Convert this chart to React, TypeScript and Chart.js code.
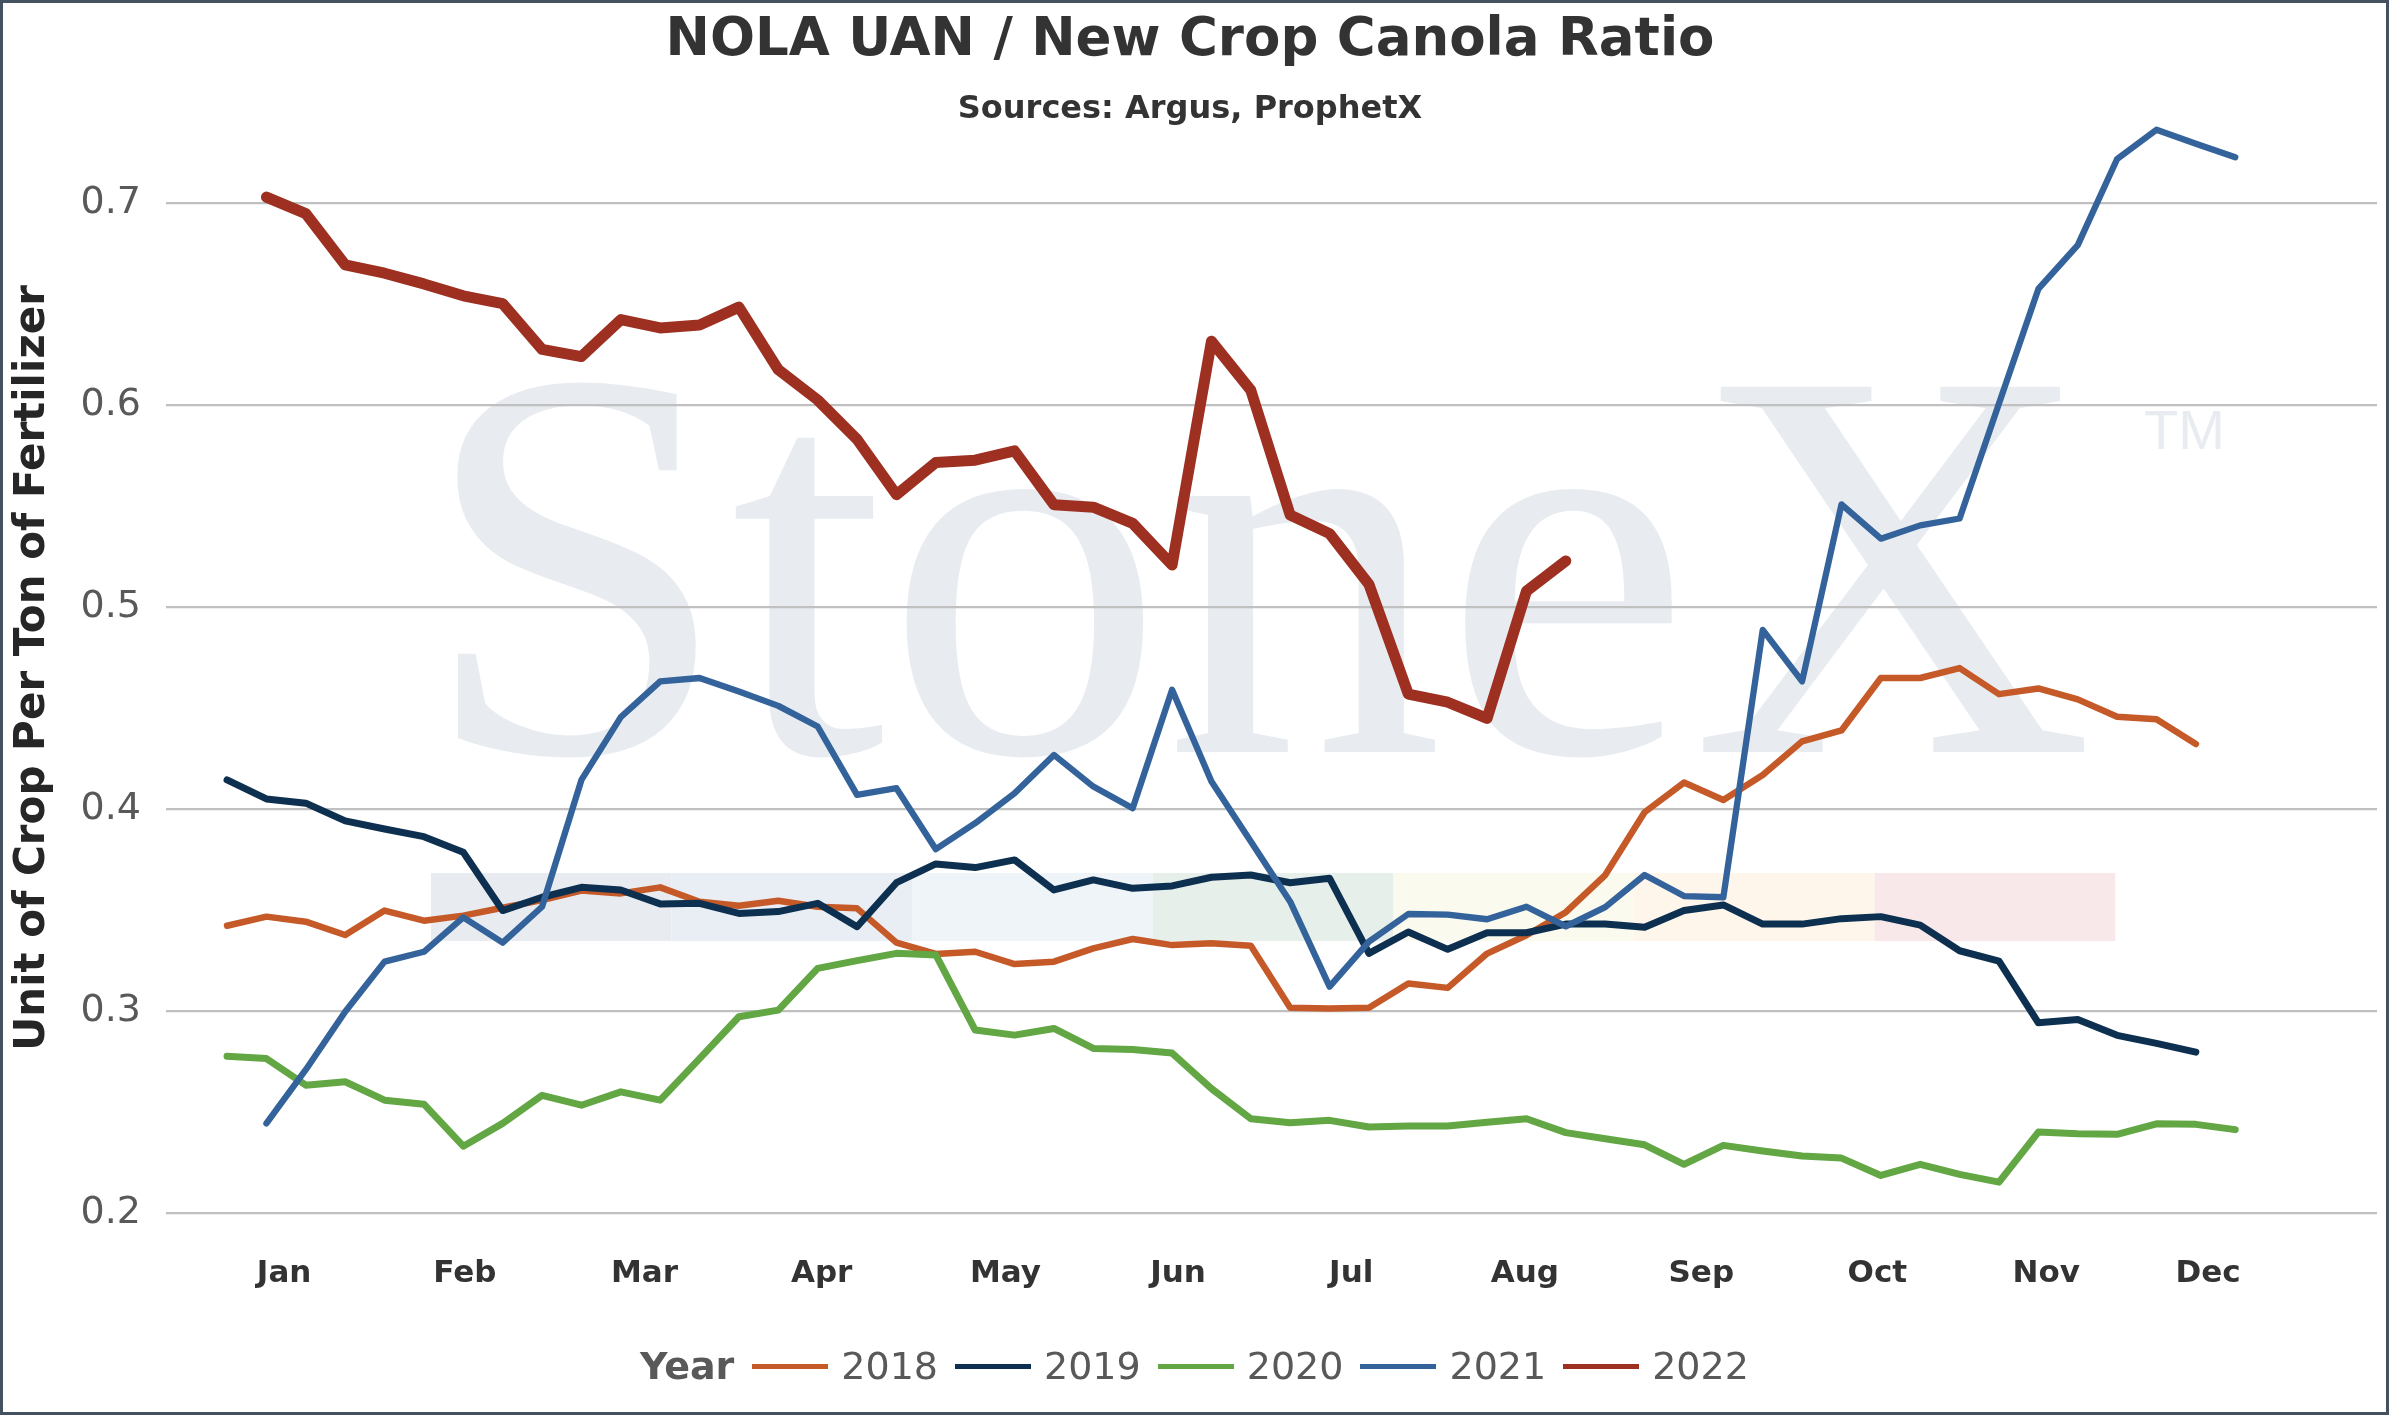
import React, { useEffect, useRef } from 'react';
import { Chart, registerables } from 'chart.js';

Chart.register(...registerables);

// ---------- data ----------
const MONTHS = ['Jan', 'Feb', 'Mar', 'Apr', 'May', 'Jun', 'Jul', 'Aug', 'Sep', 'Oct', 'Nov', 'Dec'];
// month label positions on the week axis (week index 0..51)
const MONTH_POS = [1.45, 6.04, 10.6, 15.1, 19.77, 24.15, 28.55, 32.96, 37.44, 41.91, 46.2, 50.31];
const Y_TICKS = [0.2, 0.3, 0.4, 0.5, 0.6, 0.7];

const YEARS = ['2018', '2019', '2020', '2021', '2022'];
const COLORS = ['#C55A28', '#0D3050', '#62A744', '#33639A', '#9E3022'];
const WIDTHS = [6.5, 7, 7, 6.3, 11];

const V2018 = [
  0.3423, 0.3468, 0.3443, 0.3377, 0.3498, 0.3448, 0.3473, 0.3512, 0.355, 0.3597,
  0.3583, 0.3613, 0.3542, 0.3522, 0.3547, 0.3517, 0.3509, 0.3339, 0.3283, 0.3294,
  0.3233, 0.3245, 0.3311, 0.3357, 0.3327, 0.3336, 0.3324, 0.3017, 0.3013, 0.3017,
  0.3137, 0.3115, 0.3285, 0.3376, 0.349, 0.3674, 0.3985, 0.4132, 0.4046, 0.417,
  0.4336, 0.439, 0.465, 0.465, 0.4699, 0.457, 0.4598, 0.4544, 0.4458, 0.4446,
  0.4323,
];
const V2019 = [
  0.4145, 0.4051, 0.403, 0.3942, 0.3902, 0.3864, 0.3787, 0.3498, 0.3564, 0.3613,
  0.36, 0.3531, 0.3534, 0.3484, 0.3493, 0.3534, 0.3418, 0.3636, 0.3729, 0.3711,
  0.3749, 0.36, 0.365, 0.3608, 0.362, 0.3663, 0.3674, 0.3636, 0.3658, 0.3286,
  0.3392, 0.3306, 0.3388, 0.3388, 0.3431, 0.3431, 0.3415, 0.3498, 0.3526, 0.3431,
  0.3431, 0.3458, 0.3468, 0.3426, 0.3299, 0.3248, 0.2942, 0.2959, 0.288, 0.284,
  0.2797,
];
const V2020 = [
  0.2777, 0.2765, 0.2633, 0.265, 0.2559, 0.2539, 0.2331, 0.2444, 0.2583, 0.2534,
  0.26, 0.2559, 0.2765, 0.2972, 0.3005, 0.3212, 0.325, 0.3286, 0.3278, 0.2906,
  0.2881, 0.2914, 0.2815, 0.281, 0.2792, 0.2616, 0.2467, 0.2447, 0.2459, 0.2426,
  0.2431, 0.2431, 0.245, 0.2467, 0.2398, 0.2368, 0.2338, 0.2241, 0.2335, 0.2307,
  0.2282, 0.2272, 0.2186, 0.2241, 0.2191, 0.2153, 0.2401, 0.2393, 0.239, 0.2442,
  0.2439, 0.2413,
];
const V2021 = [
  null, 0.2444, 0.271, 0.2997, 0.3245, 0.3294, 0.3464, 0.3339, 0.3517, 0.4145,
  0.4456, 0.4633, 0.465, 0.4583, 0.4512, 0.441, 0.4071, 0.4104, 0.3802, 0.3931,
  0.4079, 0.4269, 0.4112, 0.4005, 0.4592, 0.4137, 0.384, 0.3542, 0.3121, 0.3344,
  0.3481, 0.3478, 0.3455, 0.3517, 0.342, 0.3515, 0.3674, 0.357, 0.3564, 0.4888,
  0.4633, 0.551, 0.534, 0.5406, 0.544, 0.601, 0.6577, 0.6794, 0.7221, 0.7366,
  0.7296, 0.7229,
];
const V2022 = [
  null, 0.7032, 0.695, 0.6696, 0.6655, 0.6602, 0.6543, 0.6504, 0.6278, 0.6242,
  0.6425, 0.6384, 0.6398, 0.6487, 0.6177, 0.6027, 0.5832, 0.5558, 0.5717, 0.5729,
  0.5775, 0.5508, 0.5496, 0.5416, 0.521, 0.6318, 0.6075, 0.5457, 0.5365, 0.5114,
  0.457, 0.453, 0.445, 0.508, 0.523,
];
const SERIES = [V2018, V2019, V2020, V2021, V2022];

// watermark logo bar colours
const BAR_COLORS = ['#E8EBF0', '#E9EEF5', '#EFF4F9', '#E6EFEA', '#FAFAEE', '#FEF6EB', '#F8E8EA'];

const W = 2383;
const H = 1409;
const FONT = '"DejaVu Sans", Verdana, sans-serif';

const watermarkPlugin = {
  id: 'stonexWatermark',
  beforeDraw(chart: any) {
    const ctx = chart.ctx as CanvasRenderingContext2D;
    ctx.save();
    const barW = 240.6;
    BAR_COLORS.forEach((c, i) => {
      ctx.fillStyle = c;
      ctx.fillRect(428 + i * barW, 870, barW, 68);
    });
    ctx.fillStyle = '#E8ECF1';
    ctx.textBaseline = 'alphabetic';
    ctx.textAlign = 'left';
    ctx.font = '558px "Liberation Serif", "DejaVu Serif", serif';
    ctx.fillText('StoneX', 417, 749);
    ctx.font = '56px "Liberation Sans", sans-serif';
    ctx.fillText('TM', 2141, 446);
    ctx.restore();
  },
};

export default function App() {
  const canvasRef = useRef<HTMLCanvasElement | null>(null);

  useEffect(() => {
    if (!canvasRef.current) return;
    const datasets = SERIES.map((vals, si) => ({
      label: YEARS[si],
      data: vals.map((v, i) => ({ x: i, y: v })),
      borderColor: COLORS[si],
      backgroundColor: COLORS[si],
      borderWidth: WIDTHS[si],
      pointRadius: 0,
      pointHoverRadius: 0,
      tension: 0,
      fill: false,
      borderJoinStyle: 'round' as const,
      borderCapStyle: 'round' as const,
      order: YEARS.length - si,
    }));

    const chart = new Chart(canvasRef.current, {
      type: 'line',
      data: { datasets },
      plugins: [watermarkPlugin],
      options: {
        animation: false,
        responsive: false,
        devicePixelRatio: 1,
        layout: { padding: { left: 0, right: 9, top: 0, bottom: 0 } },
        plugins: {
          legend: { display: false },
          tooltip: { enabled: false },
          title: {
            display: true,
            text: 'NOLA UAN / New Crop Canola Ratio',
            color: '#333333',
            font: { family: FONT, size: 53, weight: 'bold', lineHeight: 1.2 },
            padding: { top: 6.5, bottom: 22.5 },
          },
          subtitle: {
            display: true,
            text: 'Sources: Argus, ProphetX',
            color: '#333333',
            font: { family: FONT, size: 32, weight: 'bold', lineHeight: 0.85 },
            padding: { top: 0, bottom: 0 },
          },
        },
        scales: {
          x: {
            type: 'linear',
            min: -1.55,
            max: 54.6,
            grid: { display: false, drawTicks: false },
            border: { display: false },
            afterBuildTicks: (scale: any) => {
              scale.ticks = MONTH_POS.map((v) => ({ value: v }));
            },
            afterFit: (scale: any) => {
              scale.height = 199;
            },
            ticks: {
              autoSkip: false,
              maxRotation: 0,
              minRotation: 0,
              padding: 42,
              color: '#333333',
              font: { family: FONT, size: 31, weight: 'bold' },
              callback: (_v: any, i: number) => MONTHS[i],
            },
          },
          y: {
            type: 'linear',
            min: 0.2,
            max: 0.74,
            afterBuildTicks: (scale: any) => {
              scale.ticks = Y_TICKS.map((v) => ({ value: v }));
            },
            afterFit: (scale: any) => {
              scale.width = 163;
            },
            grid: { color: '#C0C0C0', lineWidth: 2.3, drawTicks: false },
            border: { display: false },
            ticks: {
              padding: 25,
              color: '#595959',
              font: { family: FONT, size: 38 },
              callback: (v: any) => Number(v).toFixed(1),
            },
            title: {
              display: true,
              text: 'Unit of Crop Per Ton of Fertilizer',
              color: '#262626',
              font: { family: FONT, size: 42, weight: 'bold', lineHeight: 1.2 },
              padding: { top: 5, bottom: 0 },
            },
          },
        },
      },
    } as any);

    return () => {
      chart.destroy();
    };
  }, []);

  return (
    <div
      style={{
        position: 'absolute',
        left: 0,
        top: 0,
        width: 2389,
        height: 1415,
        boxSizing: 'border-box',
        border: '3px solid #44515E',
        background: '#FFFFFF',
        overflow: 'hidden',
      }}
    >
      <canvas ref={canvasRef} width={W} height={H} style={{ display: 'block', width: W, height: H }} />
      <div
        style={{
          position: 'absolute',
          left: 0,
          top: 1333,
          width: W,
          height: 60,
          display: 'flex',
          alignItems: 'center',
          justifyContent: 'center',
          fontFamily: FONT,
          fontSize: 38,
          color: '#595959',
          whiteSpace: 'nowrap',
        }}
      >
        <span style={{ fontWeight: 'bold', marginRight: 18 }}>Year</span>
        {YEARS.map((y, i) => (
          <React.Fragment key={y}>
            <span
              style={{
                display: 'inline-block',
                width: 76,
                height: 5,
                background: COLORS[i],
                marginRight: 13,
              }}
            />
            <span style={{ marginRight: i < YEARS.length - 1 ? 17 : 0 }}>{y}</span>
          </React.Fragment>
        ))}
      </div>
    </div>
  );
}
